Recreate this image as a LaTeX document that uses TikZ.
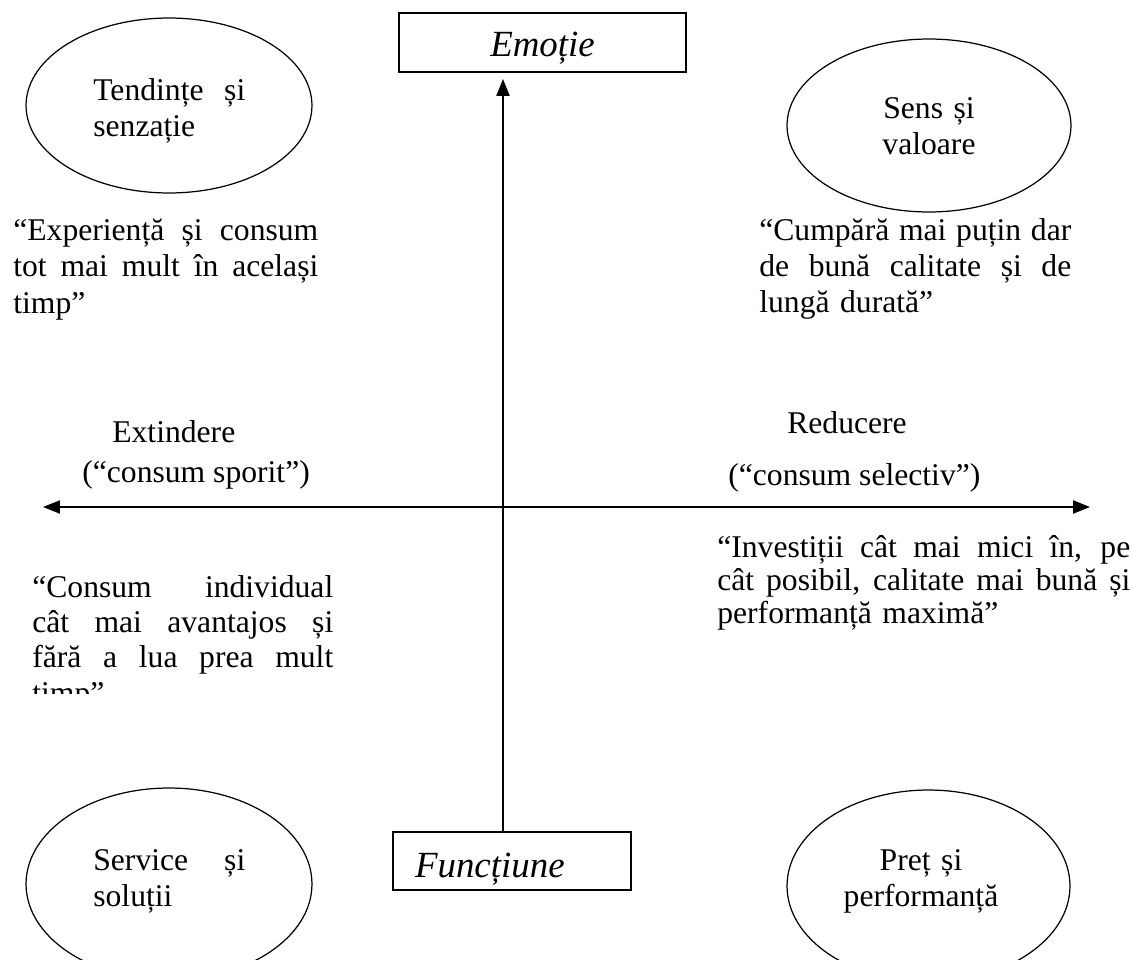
\documentclass[tikz,border=0pt]{standalone}
\usepackage{fontspec}
\setmainfont{Liberation Serif}
\usetikzlibrary{shapes.geometric,arrows.meta}

% one justified line: words spread over the given width
\newcommand{\fullline}[2]{\makebox[#1][s]{\spaceskip=0.25em plus 1fil\relax#2}}

\tikzset{
  oval/.style={draw, ellipse, line width=0.7pt, inner sep=0pt},
  txt/.style={anchor=base west, inner sep=0pt, font=\fontsize{18}{21}\selectfont},
  quote/.style={txt, text width=#1, align=left},
  axisbox/.style={draw, rectangle, line width=1.1pt, font=\fontsize{21}{24}\selectfont\itshape},
  axisline/.style={line width=1.2pt}
}

\begin{document}
\begin{tikzpicture}[x=0.02cm, y=-0.02cm, >={Triangle[length=3.4mm,width=2.6mm]}]
\useasboundingbox (0,0) rectangle (1133,960);
\clip (0,0) rectangle (1133,960);
% the two poles
\node [axisbox, minimum width=5.74cm, minimum height=1.18cm, text height=0.58cm, text depth=0pt] (emo) at (542.5,42.5) {Emoție};
\node [axisbox, minimum height=1.16cm, text width=3.88cm, inner xsep=0.44cm, text height=0.64cm, text depth=0pt, align=left] (func) at (512,861) {Funcțiune};
% axes
\coordinate (o) at (503,507);
\coordinate (w) at (43,507);
\coordinate (e) at (1090,507);
\draw [axisline, <->] (w) -- (e);
\draw [axisline, ->, shorten >=0.12cm] (func.north -| o) -- (emo.south -| o);
\node [txt] (ext) at (112,442) {Extindere};
\node [txt] (extq) at (82,482) {(“consum sporit”)};
\node [txt] (red) at (787,433) {Reducere};
\node [txt] (redq) at (728,485) {(“consum selectiv”)};
% quadrants
\node [oval, minimum width=5.72cm, minimum height=3.5cm] (trend) at (169,105.5) {};
\node [oval, minimum width=5.68cm, minimum height=3.46cm] (sens) at (929,125.5) {};
\node [oval, minimum width=5.72cm, minimum height=3.84cm] (serv) at (169,884) {};
\node [oval, minimum width=5.66cm, minimum height=3.84cm] (pret) at (928.5,886) {};
\node [quote=3.04cm] (trendtxt) at (93,100) {\fullline{3.04cm}{Tendințe și}\\senzație};
\node [quote=4cm, align=center, anchor=base] (senstxt) at (929,118) {Sens și\\valoare};
\node [quote=3.04cm] (servtxt) at (93,870) {\fullline{3.04cm}{Service și}\\soluții};
\node [quote=4cm, align=center, anchor=base] (prettxt) at (921,870) {Preț și\\performanță};
\node [quote=6.1cm] (expq) at (13,240) {\fullline{6.1cm}{“Experiență și consum}\\\fullline{6.1cm}{tot mai mult în același}\\timp”};
\begin{scope}
\clip (700,0) rectangle (1133,318);
\node [quote=6.24cm, font=\fontsize{18}{20.5}\selectfont] (cumpq) at (759,240) {\fullline{6.24cm}{“Cumpără mai puțin dar}\\\fullline{6.24cm}{de bună calitate și de}\\lungă durată”};
\end{scope}
\begin{scope}
\clip (0,540) rectangle (400,693);
\node [quote=6.02cm, font=\fontsize{18}{20.2}\selectfont] (consq) at (32,597) {\fullline{6.02cm}{“Consum individual}\\\fullline{6.02cm}{cât mai avantajos și}\\\fullline{6.02cm}{fără a lua prea mult}\\timp”};
\end{scope}
\node [quote=8.26cm, font=\fontsize{18}{18.8}\selectfont] (invq) at (717,557) {\fullline{8.26cm}{“Investiții cât mai mici în, pe}\\\fullline{8.26cm}{cât posibil, calitate mai bună și}\\performanță maximă”};
\end{tikzpicture}
\end{document}
